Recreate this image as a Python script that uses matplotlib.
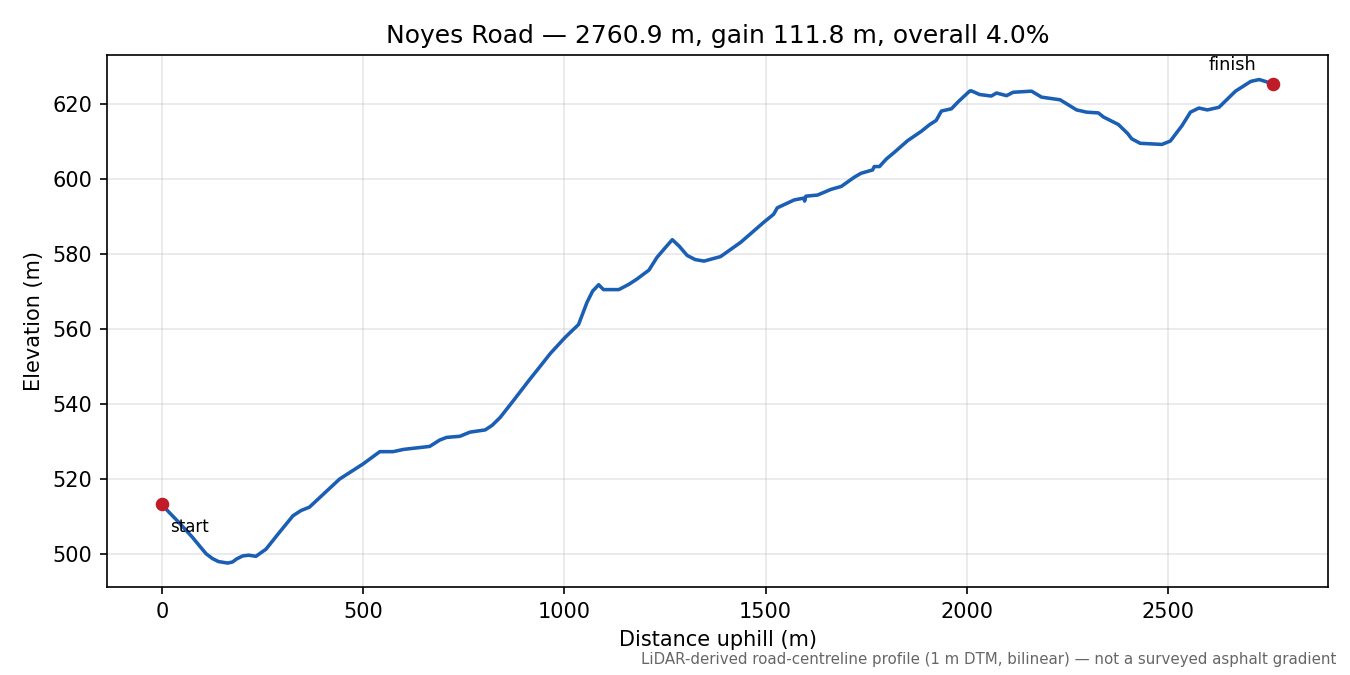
import numpy as np
import matplotlib
matplotlib.use('Agg')
import matplotlib.pyplot as plt


ROAD = 'Noyes Road'
LENGTH = 2760.9
GAIN = 111.8

# profile (distance m, elevation m)
dist = [0, 13, 40, 75, 95, 109, 125, 140, 163, 175, 185, 200, 215, 233, 258,
        290, 325, 345, 366, 400, 441, 499, 541, 574, 600, 665, 690, 707, 740,
        765, 803, 820, 840, 873, 911, 940, 965, 1002, 1035, 1056, 1070, 1085,
        1097, 1135, 1160, 1180, 1210, 1230, 1250, 1268, 1285, 1305, 1325,
        1347, 1388, 1438, 1496, 1520, 1529, 1571, 1595, 1597, 1600, 1629,
        1662, 1688, 1721, 1737, 1766, 1770, 1783, 1800, 1820, 1853, 1887,
        1908, 1924, 1937, 1962, 1978, 2007, 2011, 2032, 2061, 2074, 2099,
        2115, 2161, 2186, 2232, 2273, 2298, 2327, 2340, 2377, 2400, 2410,
        2431, 2485, 2506, 2535, 2556, 2577, 2598, 2627, 2668, 2706, 2727,
        2745, 2760.9]
elev = [513.3, 511.5, 508.5, 504.4, 501.8, 500.0, 498.7, 497.9, 497.5, 497.8,
        498.6, 499.4, 499.6, 499.3, 501.2, 505.5, 510.1, 511.5, 512.4, 515.8,
        519.9, 523.9, 527.2, 527.2, 527.8, 528.6, 530.3, 531.0, 531.3, 532.4,
        533.0, 534.2, 536.3, 540.8, 546.1, 550.0, 553.4, 557.7, 561.1, 567.0,
        570.0, 571.7, 570.4, 570.4, 571.8, 573.2, 575.6, 579.0, 581.5, 583.7,
        582.0, 579.5, 578.4, 578.0, 579.2, 583.0, 588.4, 590.5, 592.2, 594.3,
        594.8, 594.0, 595.3, 595.6, 597.1, 597.9, 600.4, 601.4, 602.3, 603.2,
        603.2, 605.2, 607.0, 610.1, 612.6, 614.4, 615.5, 618.0, 618.6, 620.4,
        623.3, 623.4, 622.4, 622.0, 622.8, 622.1, 623.0, 623.3, 621.7, 621.0,
        618.3, 617.7, 617.5, 616.4, 614.4, 612.0, 610.6, 609.4, 609.1, 610.0,
        614.1, 617.7, 618.8, 618.3, 619.0, 623.3, 625.9, 626.4, 625.8, 625.1]


def main():
    x = np.array(dist)
    y = np.array(elev)
    overall = GAIN / LENGTH * 100

    fig, ax = plt.subplots(figsize=(9, 4.5), dpi=150)
    ax.plot(x, y, color='#1a5fb4', linewidth=1.7)
    ax.plot([x[0], x[-1]], [y[0], y[-1]], 'o', color='#c01c28', markersize=5.5)

    ax.annotate('start', (x[0], y[0]), xytext=(4, -7), textcoords='offset points',
                ha='left', va='top', fontsize=8)
    ax.annotate('finish', (x[-1], y[-1]), xytext=(-8, 5), textcoords='offset points',
                ha='right', va='bottom', fontsize=8.5)

    ax.set_title(f'{ROAD} \u2014 {LENGTH:.1f} m, gain {GAIN:.1f} m, overall {overall:.1f}%',
                 fontsize=12)
    ax.set_xlabel('Distance uphill (m)')
    ax.set_ylabel('Elevation (m)')
    ax.grid(True, alpha=0.3)

    fig.text(0.99, 0.012,
             'LiDAR-derived road-centreline profile (1 m DTM, bilinear) \u2014 '
             'not a surveyed asphalt gradient',
             ha='right', va='bottom', fontsize=7.2, color='#666666')

    fig.subplots_adjust(left=0.079, right=0.984, top=0.918, bottom=0.130)
    fig.savefig('out.png', dpi=150)


if __name__ == '__main__':
    main()
